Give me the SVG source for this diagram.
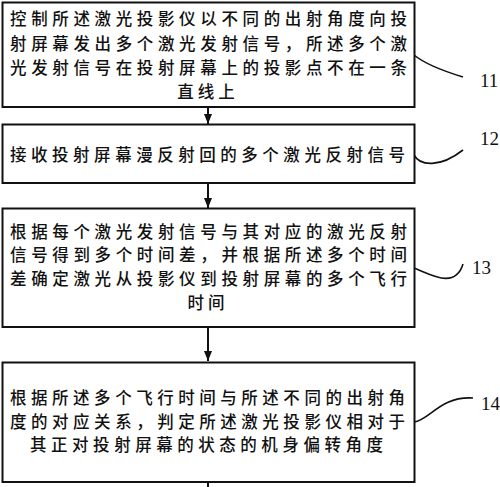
<svg xmlns="http://www.w3.org/2000/svg" width="500" height="487" viewBox="0 0 500 487">
<style>
.box{fill:#fff;stroke:#111;stroke-width:2}
.t{font-family:"Noto Sans CJK SC","Noto Sans",sans-serif;font-size:16.5px;font-weight:500;fill:#111}
.n{font-family:"Liberation Serif",serif;font-size:19px;fill:#111}
.c{fill:none;stroke:#111;stroke-width:1.6}
.a{fill:none;stroke:#111;stroke-width:2}
</style>
<defs>
<marker id="ah" markerUnits="userSpaceOnUse" markerWidth="10" markerHeight="10" viewBox="0 0 10 10" refX="10" refY="5" orient="auto">
<path d="M0,1 L10,5 L0,9 Z" fill="#111"/>
</marker>
</defs>
<rect width="500" height="487" fill="#fff"/>
<g id="connectors">
<line class="a" x1="208" y1="107" x2="208" y2="124" marker-end="url(#ah)"/>
<line class="a" x1="208" y1="183" x2="208" y2="208" marker-end="url(#ah)"/>
<line class="a" x1="208" y1="327" x2="208" y2="361" marker-end="url(#ah)"/>
<line class="a" x1="208" y1="482" x2="208" y2="487"/>
<path class="c" d="M414,55 C425,64 440,70 463,77"/>
<path class="c" d="M414,155 C420,166 440,168 463,150"/>
<path class="c" d="M414,268 C430,274 455,290 463,264"/>
<path class="c" d="M414,422 C430,420 440,396 473,398"/>
</g>
<g id="node11">
<rect class="box" x="2.5" y="2.5" width="412" height="104.5"/>
<text class="t" x="10" y="25" textLength="397" lengthAdjust="spacing">控制所述激光投影仪以不同的出射角度向投</text>
<text class="t" x="10" y="49.5" textLength="397" lengthAdjust="spacing">射屏幕发出多个激光发射信号，所述多个激</text>
<text class="t" x="10" y="73.5" textLength="397" lengthAdjust="spacing">光发射信号在投射屏幕上的投影点不在一条</text>
<text class="t" x="208" y="97.5" text-anchor="middle" letter-spacing="4">直线上</text>
<text class="n" x="480" y="87">11</text>
</g>
<g id="node12">
<rect class="box" x="2.5" y="124.5" width="412" height="58.5"/>
<text class="t" x="10" y="160.5" textLength="395" lengthAdjust="spacing">接收投射屏幕漫反射回的多个激光反射信号</text>
<text class="n" x="480" y="145">12</text>
</g>
<g id="node13">
<rect class="box" x="2.5" y="208.5" width="412" height="118.5"/>
<text class="t" x="10" y="237.5" textLength="397" lengthAdjust="spacing">根据每个激光发射信号与其对应的激光反射</text>
<text class="t" x="10" y="261" textLength="397" lengthAdjust="spacing">信号得到多个时间差，并根据所述多个时间</text>
<text class="t" x="10" y="284.5" textLength="397" lengthAdjust="spacing">差确定激光从投影仪到投射屏幕的多个飞行</text>
<text class="t" x="208" y="308.5" text-anchor="middle" letter-spacing="4">时间</text>
<text class="n" x="472" y="274">13</text>
</g>
<g id="node14">
<rect class="box" x="2.5" y="362.5" width="412" height="119.5"/>
<text class="t" x="10" y="403.5" textLength="395" lengthAdjust="spacing">根据所述多个飞行时间与所述不同的出射角</text>
<text class="t" x="10" y="427.5" textLength="395" lengthAdjust="spacing">度的对应关系，判定所述激光投影仪相对于</text>
<text class="t" x="30" y="451" textLength="353" lengthAdjust="spacing">其正对投射屏幕的状态的机身偏转角度</text>
<text class="n" x="481" y="410">14</text>
</g>
</svg>
